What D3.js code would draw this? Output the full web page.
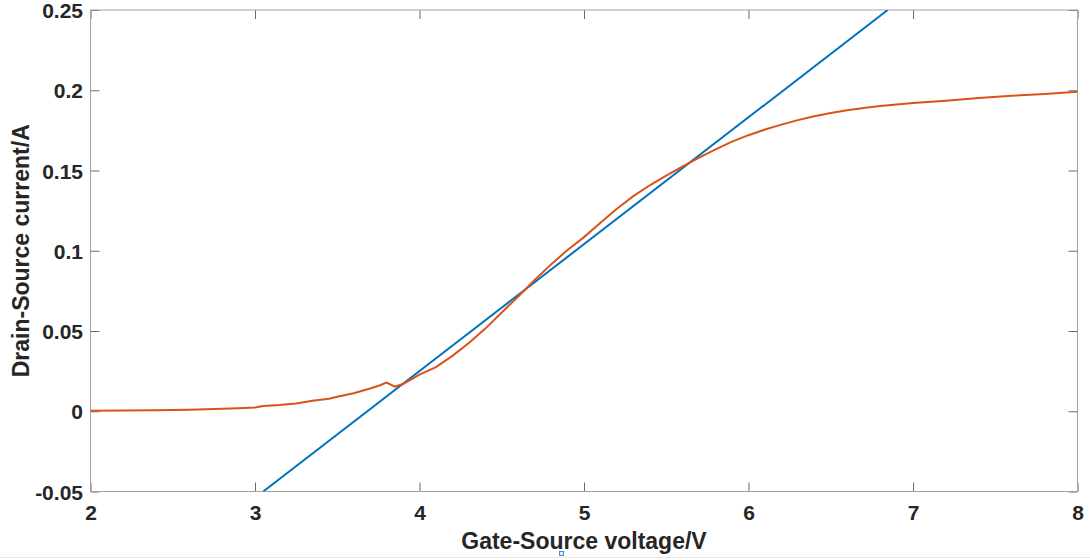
<!DOCTYPE html>
<html>
<head>
<meta charset="utf-8">
<script src="https://cdn.jsdelivr.net/npm/d3@7"></script>
<style>
  body { margin: 0; background: #fff; }
  text { font-family: "Liberation Sans", Arial, sans-serif; font-weight: bold; fill: #262626; }
</style>
</head>
<body>
<div id="my_dataviz"></div>
<script>
// measured curve (gate-source voltage, drain-source current)
var vgs = [2.0, 2.2, 2.4, 2.6, 2.8, 2.9, 3.0, 3.05, 3.15, 3.25, 3.35, 3.45, 3.5, 3.6, 3.7, 3.76, 3.8, 3.85, 3.9, 3.96,
           4.0, 4.1, 4.2, 4.3, 4.4, 4.5, 4.6, 4.7, 4.8, 4.9, 5.0, 5.1, 5.2, 5.3, 5.4, 5.5, 5.6, 5.7, 5.8, 5.9,
           6.0, 6.1, 6.2, 6.3, 6.4, 6.5, 6.6, 6.7, 6.8, 7.0, 7.2, 7.4, 7.6, 7.8, 8.0];
var ids = [0.0003, 0.0004, 0.0007, 0.0010, 0.0016, 0.0019, 0.0024, 0.0033, 0.0039, 0.0048, 0.0066, 0.0078, 0.0090, 0.0112, 0.0142, 0.0162, 0.0178, 0.0153, 0.0170, 0.0205,
           0.0228, 0.0275, 0.0345, 0.0425, 0.0515, 0.0615, 0.0715, 0.0818, 0.0915, 0.1005, 0.1085, 0.1175, 0.1262, 0.1340, 0.1408, 0.1468, 0.1525, 0.1580, 0.1632, 0.1680,
           0.1720, 0.1755, 0.1786, 0.1814, 0.1838, 0.1858, 0.1875, 0.1890, 0.1902, 0.1920, 0.1935, 0.1952, 0.1965, 0.1977, 0.1990];

// tangent (linear fit) line end points
var fitV = [3.05, 6.846];
var fitI = [-0.05, 0.25];

var xTicks = [2, 3, 4, 5, 6, 7, 8];
var yTicks = [-0.05, 0, 0.05, 0.1, 0.15, 0.2, 0.25];
var yTickLabels = ['-0.05', '0', '0.05', '0.1', '0.15', '0.2', '0.25'];

var width = 1090,
    height = 560;
var margin = {top: 10, bottom: 68.5, left: 90.5, right: 12.5};
var actualWidth = width - margin.left - margin.right;
var actualHeight = height - margin.top - margin.bottom;

var svg = d3.select('#my_dataviz')
    .append('svg')
    .attr('width', width)
    .attr('height', height);

var xScale = d3.scaleLinear().domain([2, 8]).range([0, actualWidth]);
var yScale = d3.scaleLinear().domain([-0.05, 0.25]).range([actualHeight, 0]);

// figure bottom edge artifacts
svg.append('line')
    .attr('x1', 0).attr('x2', width)
    .attr('y1', 557.5).attr('y2', 557.5)
    .style('stroke', '#e8e8e8');
svg.append('rect')
    .attr('x', 559.5).attr('y', 551.5)
    .attr('width', 4).attr('height', 4)
    .style('fill', '#dbeeff')
    .style('stroke', '#3d8fd6');

var g = svg.append('g')
    .attr('transform', 'translate(' + margin.left + ',' + margin.top + ')');

g.append('clipPath').attr('id', 'plotclip')
    .append('rect').attr('width', actualWidth).attr('height', actualHeight);

// axes with inward ticks on all four sides
var xAxis = d3.axisBottom(xScale).tickValues(xTicks).tickSize(-9).tickFormat(d3.format('d'));
var xAxisTop = d3.axisTop(xScale).tickValues(xTicks).tickSize(-9).tickFormat('');
var yAxis = d3.axisLeft(yScale).tickValues(yTicks).tickSize(-9).tickPadding(7.5)
    .tickFormat(function (d, i) { return yTickLabels[i]; });
var yAxisRight = d3.axisRight(yScale).tickValues(yTicks).tickSize(-9).tickFormat('');

var gx = g.append('g').attr('transform', 'translate(0,' + actualHeight + ')').call(xAxis);
var gxt = g.append('g').call(xAxisTop);
var gy = g.append('g').call(yAxis);
var gyr = g.append('g').attr('transform', 'translate(' + actualWidth + ',0)').call(yAxisRight);

[gx, gxt, gy, gyr].forEach(function (a) {
    a.select('.domain').remove();
    a.selectAll('.tick line').style('stroke', '#6b6b6b');
    a.selectAll('.tick text').style('font-size', '21px').style('fill', '#262626');
});
gx.selectAll('.tick text').attr('y', 28.5).attr('dy', 0);
gy.selectAll('.tick text').attr('dy', '0.36em');

g.append('rect')
    .attr('width', actualWidth)
    .attr('height', actualHeight)
    .style('fill', 'none')
    .style('stroke', '#a3a3a3');

var line = d3.line()
    .x(function (d) { return xScale(d[0]); })
    .y(function (d) { return yScale(d[1]); });

g.append('path')
    .datum(fitV.map(function (v, i) { return [v, fitI[i]]; }))
    .attr('d', line)
    .attr('clip-path', 'url(#plotclip)')
    .style('fill', 'none')
    .style('stroke', '#0072BD')
    .style('stroke-width', 2);

g.append('path')
    .datum(vgs.map(function (v, i) { return [v, ids[i]]; }))
    .attr('d', line)
    .attr('clip-path', 'url(#plotclip)')
    .style('fill', 'none')
    .style('stroke', '#D95319')
    .style('stroke-width', 2);

g.append('text')
    .attr('x', actualWidth / 2)
    .attr('y', actualHeight + 57)
    .attr('text-anchor', 'middle')
    .style('font-size', '23px')
    .text('Gate-Source voltage/V');

g.append('text')
    .attr('transform', 'rotate(-90)')
    .attr('x', -actualHeight / 2)
    .attr('y', -62)
    .attr('text-anchor', 'middle')
    .style('font-size', '23px')
    .text('Drain-Source current/A');
</script>
</body>
</html>
